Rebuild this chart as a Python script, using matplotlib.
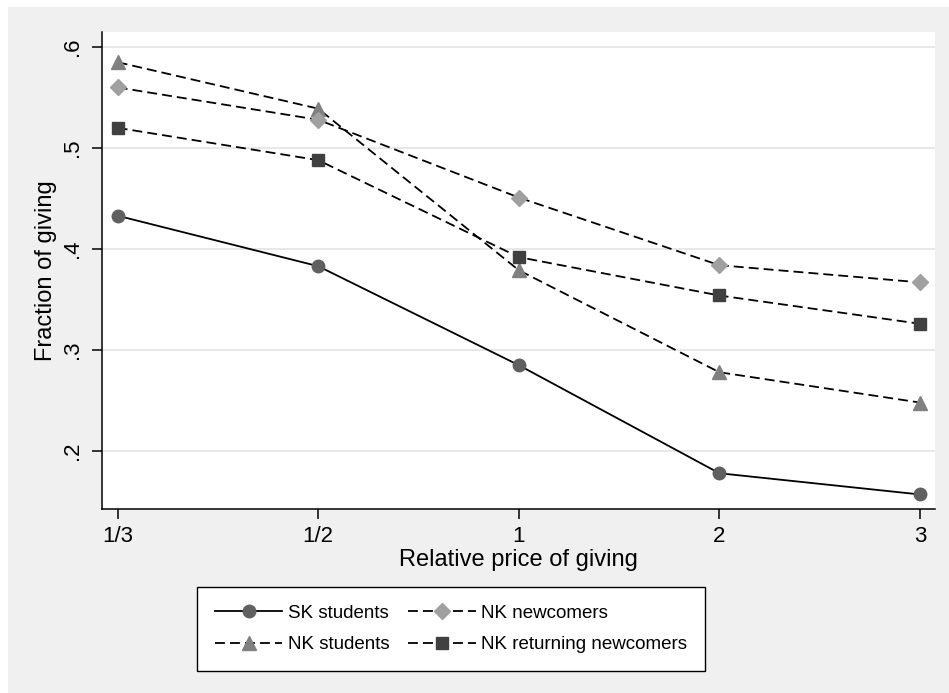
import matplotlib
matplotlib.use("Agg")

import matplotlib.pyplot as plt
from matplotlib.patches import Rectangle

plt.rcParams["font.family"] = ["Liberation Sans", "DejaVu Sans"]

prices = ["1/3", "1/2", "1", "2", "3"]

sk_students = [0.433, 0.383, 0.285, 0.178, 0.157]
nk_students = [0.585, 0.539, 0.379, 0.278, 0.248]
nk_newcomers = [0.560, 0.528, 0.451, 0.384, 0.367]
nk_returning = [0.520, 0.488, 0.392, 0.354, 0.326]

yticks = [0.2, 0.3, 0.4, 0.5, 0.6]
ytick_labels = [".2", ".3", ".4", ".5", ".6"]

W, H = 949, 693
fig = plt.figure(figsize=(W / 100, H / 100), dpi=100, facecolor="white")
fig.patches.append(
    Rectangle((8 / W, 0), 1 - 8 / W, 1 - 7 / H, transform=fig.transFigure,
              facecolor="#f0f0f0", edgecolor="none", zorder=-5)
)

ax = fig.add_axes([102 / W, 1 - 509 / H, 833 / W, 477 / H])
ax.set_facecolor("white")

dash = (0, (5.5, 2.8))
ax.plot(prices, sk_students, color="black", lw=1.3, marker="o", ms=9,
        mfc="#606060", mec="#606060", label="SK students", zorder=3)
ax.plot(prices, nk_students, color="black", lw=1.3, ls=dash, marker="^", ms=10,
        mfc="#808080", mec="#808080", label="NK students", zorder=3)
ax.plot(prices, nk_newcomers, color="black", lw=1.3, ls=dash, marker="D", ms=8,
        mfc="#a0a0a0", mec="#a0a0a0", label="NK newcomers", zorder=3)
ax.plot(prices, nk_returning, color="black", lw=1.3, ls=dash, marker="s", ms=8.5,
        mfc="#404040", mec="#404040", label="NK returning newcomers", zorder=3)

ax.set_xlim(-0.078, 4.075)
ax.set_ylim(0.1426, 0.6149)
ax.set_yticks(yticks)
ax.set_yticklabels(ytick_labels, rotation=90, va="center")
ax.grid(axis="y", color="#e6e6e6", lw=1.3)
ax.set_axisbelow(True)

for s in ["top", "right"]:
    ax.spines[s].set_visible(False)
for s in ["left", "bottom"]:
    ax.spines[s].set_linewidth(1.1)
ax.tick_params(axis="both", length=7, width=1.1, labelsize=16)
ax.tick_params(axis="x", pad=5)
ax.tick_params(axis="y", pad=7)

ax.set_xlabel("Relative price of giving", fontsize=17, labelpad=2)
ax.set_ylabel("Fraction of giving", fontsize=17, labelpad=3)

# column-major fill: SK / NK students in col 1, newcomers in col 2
leg = fig.legend(
    ncol=2, loc="upper left", bbox_to_anchor=(197 / W, 1 - 587 / H),
    fontsize=13.5, frameon=True, fancybox=False, edgecolor="black",
    framealpha=1, facecolor="white",
    handlelength=3.6, handletextpad=0.3, columnspacing=1.0,
    labelspacing=0.75, borderpad=0.95, borderaxespad=0, numpoints=1,
)
leg.get_frame().set_linewidth(1.0)

fig.savefig("out.png", dpi=100, facecolor=fig.get_facecolor())
